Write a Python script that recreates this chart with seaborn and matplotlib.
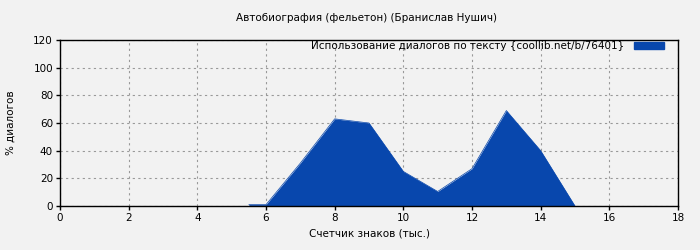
import matplotlib
matplotlib.use("Agg")
import matplotlib.pyplot as plt
import seaborn as sns
import pandas as pd
from matplotlib.patches import Patch

x_thousands = [5.5, 6, 7, 8, 8.5, 9, 10, 11, 12, 13, 14, 15]
dialog_pct = [1, 1, 31, 63, 61.5, 60, 25, 10.5, 27, 69, 40, 0]
title = "Автобиография (фельетон) (Бранислав Нушич)"
legend_label = "Использование диалогов по тексту {coollib.net/b/76401}"
x_ticks = [0, 2, 4, 6, 8, 10, 12, 14, 16, 18]
y_ticks = [0, 20, 40, 60, 80, 100, 120]

sns.set_theme(style="white")
plt.rcParams['font.family'] = ['DejaVu Sans']
plt.rcParams['text.color'] = 'black'
plt.rcParams['axes.labelcolor'] = 'black'
plt.rcParams['xtick.color'] = 'black'
plt.rcParams['ytick.color'] = 'black'
color = "#0847AD"
bg = "#F2F2F2"

df = pd.DataFrame({"x": x_thousands, "y": dialog_pct})
fig = plt.figure(figsize=(7, 2.5), dpi=100, facecolor=bg)
ax = fig.add_axes([0.0857, 0.176, 0.8829, 0.664])
ax.set_facecolor(bg)
sns.lineplot(data=df, x="x", y="y", ax=ax, color=color, linewidth=0.5)
ax.fill_between(df["x"], df["y"], color=color, linewidth=0)
ax.set_xlim(0, 18)
ax.set_ylim(0, 120)
ax.set_xticks(x_ticks)
ax.set_yticks(y_ticks)
ax.grid(True, color="#999999", linestyle=(0, (2, 3)), linewidth=0.8)
for s in ax.spines.values():
    s.set_color("black")
    s.set_linewidth(1)
ax.tick_params(axis="both", labelsize=7.5, length=3, width=1, color="black", direction="out", pad=2)
ax.tick_params(bottom=True, left=True)
ax.set_xlabel("Счетчик знаков (тыс.)", fontsize=7.5, labelpad=4)
ax.set_ylabel("% диалогов", fontsize=7.5, labelpad=13)
fig.text(0.524, 0.928, title, ha="center", va="center", fontsize=7.5)
ax.legend(handles=[Patch(facecolor=color, edgecolor=color)], labels=[legend_label],
          loc="upper right", bbox_to_anchor=(0.9773, 0.994), frameon=False, fontsize=7.5,
          handlelength=2.9, handleheight=0.6, borderaxespad=0, borderpad=0, handletextpad=0.9)
leg = ax.get_legend()
for vp in leg._legend_box.get_children()[1].get_children():
    for hp in vp.get_children():
        hp._children = hp._children[::-1]
fig.savefig("out.png", dpi=100, facecolor=bg)
